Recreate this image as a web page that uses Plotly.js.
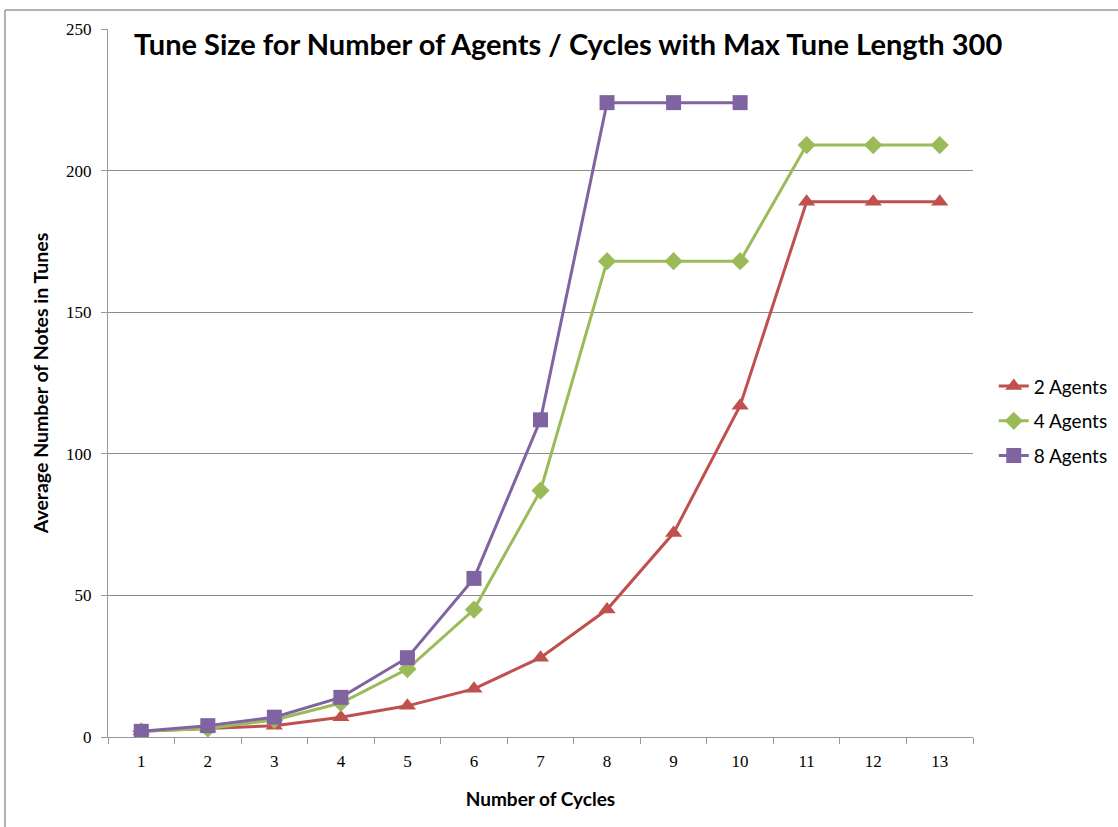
<!DOCTYPE html>
<html>
<head>
<meta charset="utf-8">
<script src="https://cdn.plot.ly/plotly-3.0.1.min.js"></script>
<style>
  html, body { margin: 0; padding: 0; background: #fff; }
  #chart { width: 1118px; height: 827px; }
</style>
</head>
<body>
<div id="chart"></div>
<script>
// Number of cycles (category axis)
const cycles = ['1', '2', '3', '4', '5', '6', '7', '8', '9', '10', '11', '12', '13'];

// Average number of notes per tune
const agents2 = [2, 3, 4, 7, 11, 17, 28, 45, 72, 117, 189, 189, 189];
const agents4 = [2, 3, 6, 12, 24, 45, 87, 168, 168, 168, 209, 209, 209];
const agents8 = [2, 4, 7, 14, 28, 56, 112, 224, 224, 224];

const seriesNames = ['2 Agents', '4 Agents', '8 Agents'];

const RED = '#C0504D', GREEN = '#9BBB59', PURPLE = '#8064A2';
const SANS = 'Lato, "Open Sans", sans-serif';
const SERIF = '"Liberation Serif", "DejaVu Serif", serif';

function series(name, ys, color, symbol, size) {
  return {
    type: 'scatter', mode: 'lines+markers', name: name,
    legendgroup: name,
    x: cycles.slice(0, ys.length), y: ys,
    line: { color: color, width: 3 },
    marker: { color: color, symbol: symbol, size: size }
  };
}

const data = [
  series(seriesNames[0], agents2, RED, 'triangle-up', 15),
  series(seriesNames[1], agents4, GREEN, 'diamond', 14),
  series(seriesNames[2], agents8, PURPLE, 'square', 15)
];

const layout = {
  width: 1118, height: 827,
  margin: { l: 108, r: 145, t: 29, b: 90, autoexpand: false },
  paper_bgcolor: '#fff', plot_bgcolor: '#fff',
  title: {
    text: '<b>Tune Size for Number of Agents / Cycles with Max Tune Length 300</b>',
    font: { family: SANS, size: 29, color: '#000' },
    xref: 'paper', x: 0.532, xanchor: 'center',
    yref: 'paper', y: 0.977, yanchor: 'middle'
  },
  xaxis: {
    type: 'category',
    categoryorder: 'array', categoryarray: cycles,
    range: [-0.5, 12.5],
    tickson: 'boundaries',
    ticks: 'outside', ticklen: 6, tickcolor: '#999',
    ticklabelstandoff: 9,
    showline: true, linecolor: '#999', linewidth: 1,
    showgrid: false, zeroline: false,
    tickfont: { family: SERIF, size: 17, color: '#000' },
    title: { text: '<b>Number of Cycles</b>', font: { family: SANS, size: 19, color: '#000' }, standoff: 22 }
  },
  yaxis: {
    range: [0, 250], dtick: 50,
    ticks: 'outside', ticklen: 6, tickcolor: '#999',
    ticklabelstandoff: 6,
    showline: true, linecolor: '#999', linewidth: 1,
    showgrid: true, gridcolor: '#8c8c8c', gridwidth: 1,
    zeroline: false,
    tickfont: { family: SERIF, size: 17, color: '#000' },
    title: { text: '<b>Average Number of Notes in Tunes</b>', font: { family: SANS, size: 19.5, color: '#000' }, standoff: 12 }
  },
  legend: {
    x: 1.024, xanchor: 'left', y: 0.446, yanchor: 'middle',
    font: { family: SANS, size: 19, color: '#000' },
    tracegroupgap: 7,
    bgcolor: 'rgba(0,0,0,0)'
  },
  shapes: [
    // outer chart frame (top and left edges)
    { type: 'line', xref: 'paper', yref: 'paper', x0: -0.1191, x1: 1.2, y0: 1.0268, y1: 1.0268,
      line: { color: '#999', width: 1.5 } },
    { type: 'line', xref: 'paper', yref: 'paper', x0: -0.1191, x1: -0.1191, y0: -0.2, y1: 1.0268,
      line: { color: '#999', width: 1.5 } }
  ]
};

Plotly.newPlot('chart', data, layout, { displayModeBar: false, staticPlot: true });
</script>
</body>
</html>
